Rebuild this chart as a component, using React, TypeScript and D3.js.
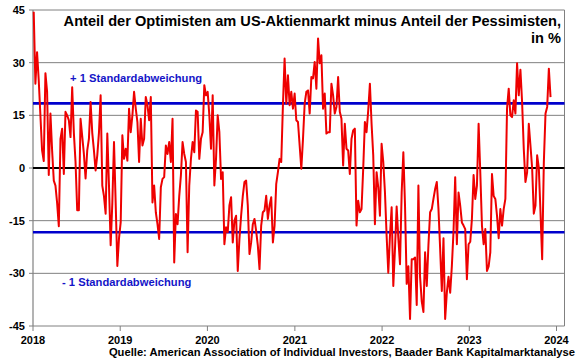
import React from "react";
import * as d3 from "d3";

// Weekly AAII bull-bear spread (percentage points)
const values2018 = [44.5, 24, 33, 25, 15, 5, 2, 27, 21.7, -2, 15.5, 5, -3.6, -5, -10, -16.6, 8.3, 11.2, -1.7, 16, 15, 13.6, 8.8, 23, 10, 1.7, -12, -12, 14, 9, 4, -3, 5, 8.3, 18.8, 10, 5, -0.7, 3.6, 10, 20.7, -5, -8, -13, 9.8, -5, -22, -10, 7.4, -10, -27.9, -20];
const values2019 = [-15.5, 9.3, 2.6, 5.5, 2.1, 16.9, 10.2, 15, 21.7, 17, 13.1, 1.7, 14, 6.4, 8.3, 20.2, 17.9, 13.6, 20.2, -9.8, -5, -12.6, -16, -20.2, -5.5, -3.1, -2.6, 6.4, 4, 7.4, 1.7, 14, -26.9, -13.1, -16, -8, -2.1, 7.4, 4, 1.7, -24, -5, 2.6, 7.4, 4.5, 16.4, 16, 2.6, 8.3, 10.2, 23.6, 20.7];
const values2020 = [21.7, 15, 5.5, 20.7, -5, 2.6, 15, 10.2, -3.1, -1.2, -21.7, -16.9, -18.3, -10.7, -8.3, -21.2, -15, -13.6, -29.3, -20.2, -13.6, -8, -4, -3.6, -10.7, -24.5, -21.2, -16, -14.5, -18, -22.1, -28.8, -16.4, -12.6, -12.1, -7.9, -14.5, -10.7, -8.3, -21.2, -16.4, -4.5, -1.2, 2.6, 1.7, 17.9, 31.2, 18.3, 26.4, 17.9, 21.7, 16.9, 21.2];
const values2021 = [13.6, 13.1, 6.4, -0.2, 8.3, 18.3, 21.7, 22.1, 15.5, 25.9, 25.5, 30.2, 22.6, 36.9, 29.8, 32.1, 16.9, 21.2, 9.8, 10.2, 10.2, 24, 20.7, 15.5, 17.4, 25.9, 16, 14, 0.7, 12.6, 5.5, 5, -1.7, 8.3, 10.7, 11.2, -16.4, -9.3, -12.6, -11.7, -0.2, 13.1, 10.2, 16.4, 24, 12.6, 3.6, -16, -1.2, -5.5, -13.6, 6.9];
const values2022 = [1.7, -6.9, -19.3, -29.8, -19.3, -11.2, -33.6, -23, -11, -20, -27.4, -7, 4.5, -10.7, -33, -28, -43, -26, -26, -25.5, -39, -5, -31, -38, -41, -24, -33.6, -22, -12.6, -11.7, -8.8, -6, -4, -11.7, -23, -35, -20, -43, -35.5, -31, -35.5, -28, -18, -2.6, -21.7, -7, -10.7, -15.5, -16.4, -17.4, -31.7, -21.7];
const values2023 = [-21, -14.5, -2, -8.8, -5, 12.6, -1.2, -16.4, -21.7, -17.4, -29.3, -28, -24, -1.7, -8, -8.8, -13.6, -20, -11.7, -16.4, -11.7, -8.8, 17, 22.6, 15, 14.5, 19.3, 15.5, 29.8, 20.7, 28, 18.8, 5.5, -4, -1.2, 12.6, 6.4, 0, -13, -10.7, 3.6, 0, -12.6, -26, 1.7, 15.5, 17.4, 28.3, 20.2];

// First weekly survey date of each year
const yearStarts = ["2018-01-04", "2019-01-03", "2020-01-02", "2021-01-07", "2022-01-06", "2023-01-05"];
const yearSeries = [values2018, values2019, values2020, values2021, values2022, values2023];

const sdBands = [18.4, -18.3];
const sdLabels = ["+ 1 Standardabweichung", "- 1 Standardabweichung"];
const yTicks = [45, 30, 15, 0, -15, -30, -45];
const xYears = [2018, 2019, 2020, 2021, 2022, 2023, 2024];

const titleLines = ["Anteil der Optimisten am US-Aktienmarkt minus Anteil der Pessimisten,", "in %"];
const sourceText = "Quelle: American Association of Individual Investors, Baader Bank Kapitalmarktanalyse";

const FONT = "'Liberation Sans', Arial, Helvetica, sans-serif";

export default function App() {
  const W = 580, H = 359;
  const left = 33, right = 564.5, top = 10, bottom = 326;

  const parse = d3.timeParse("%Y-%m-%d");
  const data: { date: Date; value: number }[] = [];
  yearSeries.forEach((arr, yi) => {
    const start = parse(yearStarts[yi]) as Date;
    arr.forEach((v, i) => data.push({ date: d3.timeWeek.offset(start, i), value: v }));
  });

  const x = d3.scaleTime()
    .domain([new Date(2018, 0, 1), new Date(2024, 0, 1)])
    .range([left, 556.5]);
  const y = d3.scaleLinear().domain([-45, 45]).range([bottom, top]);

  const line = d3.line<{ date: Date; value: number }>()
    .x((d) => x(d.date))
    .y((d) => y(d.value));

  return (
    <svg width={W} height={H} style={{ position: "absolute", left: 0, top: 0, background: "#fff" }} fontFamily={FONT}>
      <rect x={0} y={0} width={W} height={H} fill="#fff" />
      {/* grid lines */}
      {yTicks.filter((t) => t !== 0).map((t) => (
        <line key={t} x1={left - 4} x2={right} y1={y(t)} y2={y(t)} stroke="#808080" strokeWidth={1} />
      ))}
      <line x1={left - 4} x2={left} y1={y(0)} y2={y(0)} stroke="#808080" strokeWidth={1} />
      {/* axes frame */}
      <line x1={left} x2={left} y1={top} y2={bottom} stroke="#808080" strokeWidth={1.2} />
      <line x1={right} x2={right} y1={top} y2={bottom} stroke="#808080" strokeWidth={1} />
      {xYears.map((yr) => (
        <line key={yr} x1={x(new Date(yr, 0, 1))} x2={x(new Date(yr, 0, 1))} y1={bottom} y2={bottom + 5} stroke="#808080" strokeWidth={1} />
      ))}
      {/* zero line */}
      <line x1={left} x2={right} y1={y(0)} y2={y(0)} stroke="#000" strokeWidth={2.2} />
      {/* std dev lines */}
      {sdBands.map((v) => (
        <line key={v} x1={left} x2={right} y1={y(v)} y2={y(v)} stroke="#0000cc" strokeWidth={2.6} />
      ))}
      {/* data line */}
      <path d={line(data) || ""} fill="none" stroke="#ee0000" strokeWidth={2} strokeLinejoin="round" />
      {/* y labels */}
      {yTicks.map((t) => (
        <text key={t} x={25} y={y(t) + 4} textAnchor="end" fontSize={11} fontWeight="bold" fill="#000">{t}</text>
      ))}
      {/* x labels */}
      {xYears.map((yr) => (
        <text key={yr} x={x(new Date(yr, 0, 1))} y={343.5} textAnchor="middle" fontSize={11} fontWeight="bold" fill="#000">{yr}</text>
      ))}
      {/* SD labels */}
      <text x={70} y={82} fontSize={11.2} fontWeight="bold" fill="#1414c8">{sdLabels[0]}</text>
      <text x={62} y={286} fontSize={11.2} fontWeight="bold" fill="#1414c8">{sdLabels[1]}</text>
      {/* title */}
      <text x={561} y={26} textAnchor="end" fontSize={14.6} fontWeight="bold" fill="#000">{titleLines[0]}</text>
      <text x={561} y={42.5} textAnchor="end" fontSize={14.6} fontWeight="bold" fill="#000">{titleLines[1]}</text>
      {/* source */}
      <text x={575} y={356} textAnchor="end" fontSize={11.2} fontWeight="bold" fill="#000">{sourceText}</text>
    </svg>
  );
}
